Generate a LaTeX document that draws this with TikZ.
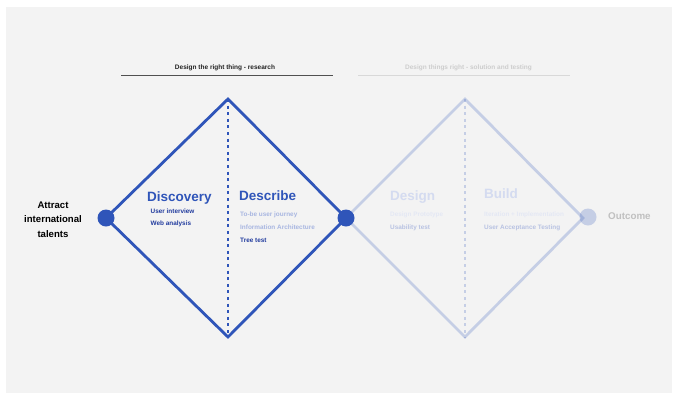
\documentclass[tikz,border=0pt]{standalone}
\usepackage{fontspec}
\setmainfont{Liberation Sans}
\definecolor{dblue}{RGB}{47,85,185}
\definecolor{navy}{RGB}{34,60,158}
\definecolor{lblue}{RGB}{168,182,225}
\definecolor{pblue}{RGB}{212,219,240}
\definecolor{ppblue}{RGB}{228,232,243}
\definecolor{mblue}{RGB}{184,194,226}
\definecolor{bg}{RGB}{243,243,243}
\definecolor{hdgray}{RGB}{80,80,80}
\definecolor{ltgray}{RGB}{216,216,216}
\definecolor{hdtext}{RGB}{34,34,34}
\definecolor{hdfade}{RGB}{205,205,205}
\definecolor{outgray}{RGB}{192,192,192}
\begin{document}
\begin{tikzpicture}[x=1pt,y=-1pt,
  diamondline/.style={draw=dblue,line width=2.8pt,line join=miter},
  midline/.style={draw=dblue,line width=1.2pt,dash pattern=on 3pt off 3.6pt},
  faded/.style={opacity=0.23},
  dot/.style={circle,fill=dblue,minimum size=17pt,inner sep=0pt},
  txt/.style={inner sep=0pt,anchor=base west,font=\bfseries},
  stage/.style={txt,font=\fontsize{13.5}{16}\selectfont\bfseries},
  item/.style={txt,font=\fontsize{6.4}{8}\selectfont\bfseries},
  header/.style={inner sep=0pt,anchor=base,font=\fontsize{6.5}{8}\selectfont\bfseries}]
\useasboundingbox (0,0) rectangle (674,394);
% page background
\fill[bg] (6,7) rectangle (672,393);

% phase headers with their rules
\node[header,text=hdtext] (h1) at (225,69.7) {Design the right thing - research};
\coordinate (h1l) at (121,75.5);
\coordinate (h1r) at (333,75.5);
\draw[hdgray,line width=1.3pt] (h1l) -- (h1r);
\node[header,text=hdfade] (h2) at (468.5,69.7) {Design things right - solution and testing};
\coordinate (h2l) at (358,75.5);
\coordinate (h2r) at (570,75.5);
\draw[ltgray,line width=1.3pt] (h2l) -- (h2r);

% diamond vertices
\coordinate (t1) at (228,99);
\coordinate (b1) at (228,337);
\coordinate (t2) at (465,99);
\coordinate (b2) at (465,337);
\coordinate (v2) at (583,218);

% second (faded) diamond
\begin{scope}[faded]
  \node[dot] (s3) at (588,217) {};
  \draw[diamondline] (346,218) -- (t2) -- (v2) -- (b2) -- cycle;
  \draw[midline] (t2) -- (b2);
\end{scope}

% first diamond
\draw[diamondline] (106,218) -- (t1) -- (346,218) -- (b1) -- cycle;
\draw[midline] (t1) -- (b1);
\node[dot] (s1) at (106,218) {};
\node[dot] (s2) at (346,218) {};

% start and end labels
\node[inner sep=0pt,align=center,font=\fontsize{9.6}{14.5}\selectfont\bfseries,text=black]
  (goal) at (53,219.5) {Attract\\international\\talents};
\node[txt,text=outgray,font=\fontsize{9.8}{12}\selectfont\bfseries] (out) at (608,219) {Outcome};

% stage titles
\node[stage,text=dblue] (disc) at (147,201) {Discovery};
\node[stage,text=dblue] (desc) at (239,200.5) {Describe};
\node[stage,text=pblue] (desi) at (390,200) {Design};
\node[stage,text=pblue] (buil) at (484,198) {Build};

% stage activities
\node[item,text=navy] (i1) at (150.5,213) {User interview};
\node[item,text=navy] (i2) at (150.5,225.5) {Web analysis};
\node[item,text=lblue] (i3) at (240,216.5) {To-be user journey};
\node[item,text=lblue] (i4) at (240,229.5) {Information Architecture};
\node[item,text=navy] (i5) at (240,242.5) {Tree test};
\node[item,text=ppblue] (i6) at (390,216.5) {Design Prototype};
\node[item,text=mblue] (i7) at (390,229) {Usability test};
\node[item,text=ppblue] (i8) at (484,216.5) {Iteration + Implementation};
\node[item,text=mblue] (i9) at (484,229) {User Acceptance Testing};
\end{tikzpicture}
\end{document}
